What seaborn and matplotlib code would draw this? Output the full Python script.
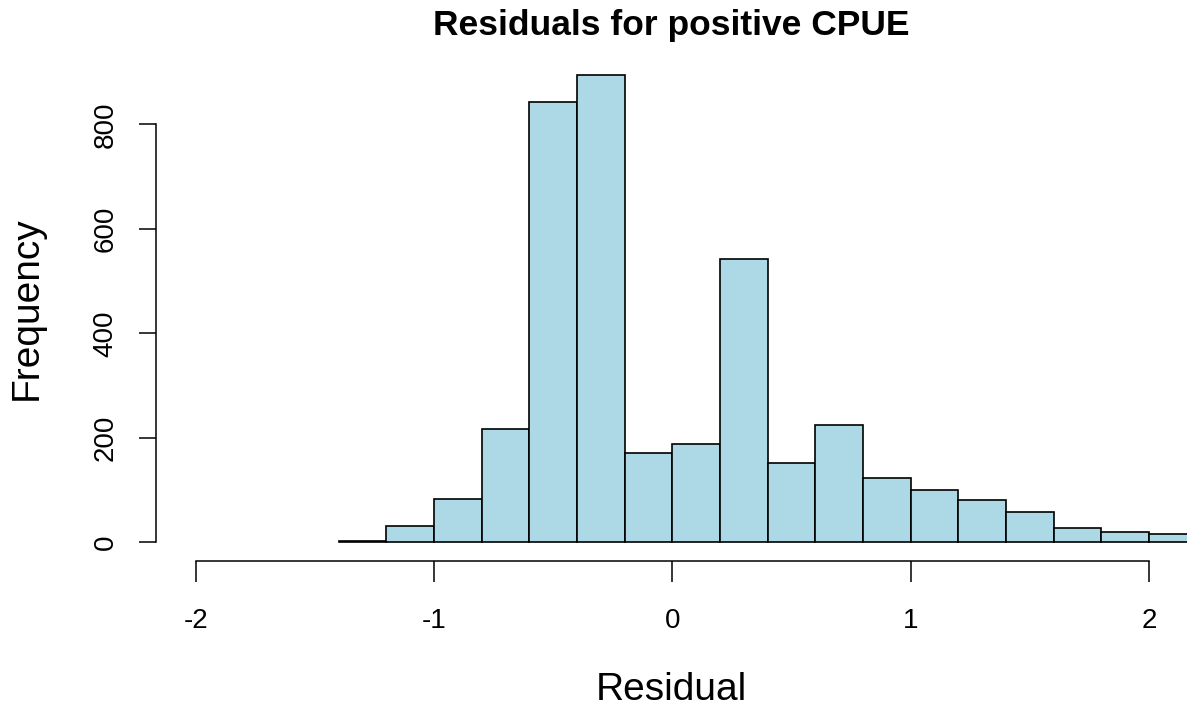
import matplotlib
matplotlib.use("Agg")
import matplotlib.pyplot as plt
import numpy as np
import pandas as pd
import seaborn as sns

# Histogram of residuals: bin edges (width 0.2) and counts per bin
bin_edges = [-1.4, -1.2, -1.0, -0.8, -0.6, -0.4, -0.2, 0.0, 0.2, 0.4,
             0.6, 0.8, 1.0, 1.2, 1.4, 1.6, 1.8, 2.0, 2.2]
counts = [2, 31, 82, 217, 843, 894, 170, 188, 542, 152,
          224, 123, 101, 80, 57, 28, 20, 16]
x_ticks = [-2, -1, 0, 1, 2]
y_ticks = [0, 200, 400, 600, 800]

sns.set_theme(style="white")
plt.rcParams["font.family"] = ["Liberation Sans", "DejaVu Sans"]
plt.rcParams["axes.unicode_minus"] = False
plt.rcParams["text.color"] = "black"
plt.rcParams["axes.labelcolor"] = "black"
plt.rcParams["xtick.color"] = "black"
plt.rcParams["ytick.color"] = "black"

W, H = 1187, 711
fig = plt.figure(figsize=(W / 100, H / 100), dpi=100)
left, right, top, bottom = 156, 1187, 55.4, 561.4
ax = fig.add_axes([left / W, (H - bottom) / H, (right - left) / W, (bottom - top) / H])

edges = np.array(bin_edges)
df = pd.DataFrame({"residual": (edges[:-1] + edges[1:]) / 2, "count": counts})
sns.histplot(data=df, x="residual", weights="count", bins=list(bin_edges), ax=ax,
             color="#ADD8E6", edgecolor="black", linewidth=1.2, alpha=1.0)

ax.set_xlim(-2.167, 2.16)
ax.set_ylim(-36.6, 931.9)

for s in ("top", "right"):
    ax.spines[s].set_visible(False)
ax.spines["left"].set_bounds(0, 800)
ax.spines["bottom"].set_bounds(-2, 2)
for s in ("left", "bottom"):
    ax.spines[s].set_color("black")
    ax.spines[s].set_linewidth(1.1)

ax.set_xticks(x_ticks)
ax.set_xticklabels([str(v) for v in x_ticks])
ax.set_yticks(y_ticks)
ax.set_yticklabels([str(v) for v in y_ticks], rotation=90, va="center")
ax.tick_params(axis="x", direction="out", length=15, width=1.1, color="black",
               labelsize=20, labelcolor="black", pad=18.5, bottom=True)
ax.tick_params(axis="y", direction="out", length=12, width=1.1, color="black",
               labelsize=20, labelcolor="black", pad=15, left=True)

ax.set_xlabel("Residual", fontsize=28, color="black")
ax.xaxis.label.set_va("baseline")
ax.xaxis.set_label_coords(0.5, (bottom - 700) / (bottom - top))
ax.set_ylabel("Frequency", fontsize=28, color="black")
ax.yaxis.label.set_va("baseline")
ax.yaxis.set_label_coords((37 - left) / (right - left), 0.5)

ax.set_title("Residuals for positive CPUE", fontsize=25.5, fontweight="bold",
             color="black", y=1 + (top - 35) / (bottom - top), pad=0)

fig.savefig("out.png", dpi=100, facecolor="white")
